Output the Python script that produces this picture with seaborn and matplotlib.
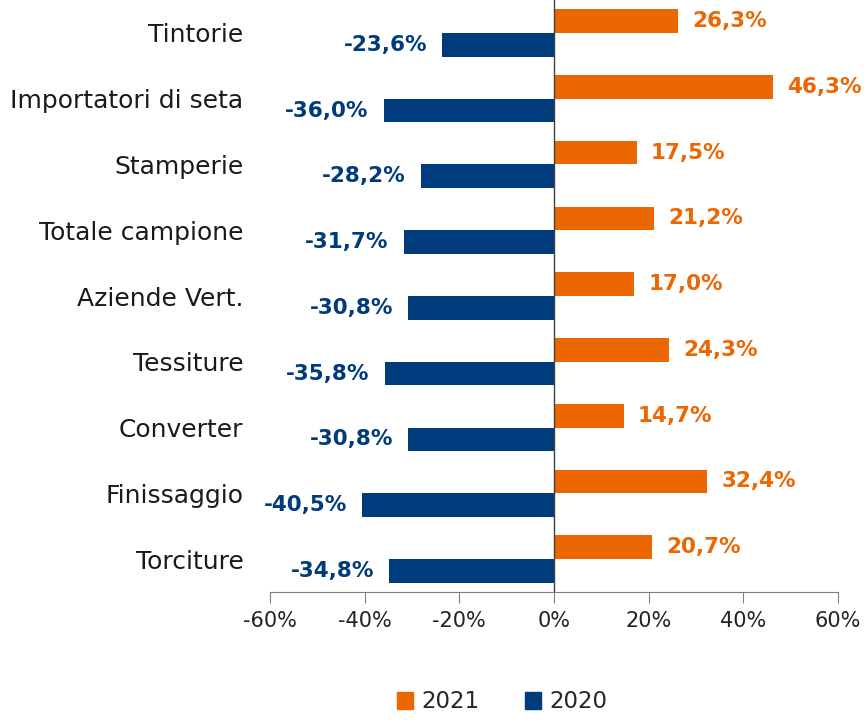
import pandas as pd
import seaborn as sns
import matplotlib.pyplot as plt
from matplotlib.patches import Patch

categories = ['Tintorie', 'Importatori di seta', 'Stamperie', 'Totale campione',
              'Aziende Vert.', 'Tessiture', 'Converter', 'Finissaggio', 'Torciture']
values_2021 = [26.3, 46.3, 17.5, 21.2, 17.0, 24.3, 14.7, 32.4, 20.7]
values_2020 = [-23.6, -36.0, -28.2, -31.7, -30.8, -35.8, -30.8, -40.5, -34.8]
years = ['2021', '2020']
x_ticks = [-60, -40, -20, 0, 20, 40, 60]

ORANGE = '#EC6602'
NAVY = '#003B7B'


def pct(v):
    return f"{v:.1f}%".replace('.', ',')


def main():
    df = pd.DataFrame({
        'Categoria': categories * 2,
        'Valore': values_2021 + values_2020,
        'Anno': ['2021'] * len(categories) + ['2020'] * len(categories),
    })

    sns.set_style('white')
    plt.rcParams['font.family'] = ['DejaVu Sans']

    fig = plt.figure(figsize=(8.64, 7.21), dpi=100)
    ax = fig.add_axes([270 / 864, 1 - 592 / 721, 568 / 864, 592 / 721])

    sns.barplot(data=df, x='Valore', y='Categoria', hue='Anno', hue_order=years,
                palette=[ORANGE, NAVY], orient='h', width=0.72, saturation=1,
                linewidth=0, ax=ax, legend=False)

    # value labels
    ax.bar_label(ax.containers[0], labels=[pct(v) for v in values_2021],
                 padding=10, color=ORANGE, fontsize=15.5, fontweight='bold')
    ax.bar_label(ax.containers[1], labels=[pct(v) for v in values_2020],
                 padding=11, color=NAVY, fontsize=15.5, fontweight='bold')

    ax.axvline(0, color='#404040', lw=1.0)
    ax.set_xlim(-60, 60)
    ax.set_xticks(x_ticks)
    ax.set_xticklabels([f"{t}%" for t in x_ticks])
    ax.set_xlabel('')
    ax.set_ylabel('')

    sns.despine(ax=ax, left=True)
    ax.spines['bottom'].set_color('#7f7f7f')
    ax.tick_params(axis='x', direction='out', length=8, color='#7f7f7f',
                   labelsize=15, labelcolor='#222222', pad=6, bottom=True)
    ax.tick_params(axis='y', length=0, labelsize=18, labelcolor='#1a1a1a', pad=19)

    handles = [Patch(color=ORANGE), Patch(color=NAVY)]
    ax.legend(handles, years, loc='center', bbox_to_anchor=(502 / 864, 1 - 702 / 721),
              bbox_transform=fig.transFigure, ncol=2, frameon=False, fontsize=16.5,
              handlelength=0.7, handleheight=0.7, handletextpad=0.35,
              columnspacing=2.0)

    plt.savefig('out.png', dpi=100)


if __name__ == "__main__":
    main()
